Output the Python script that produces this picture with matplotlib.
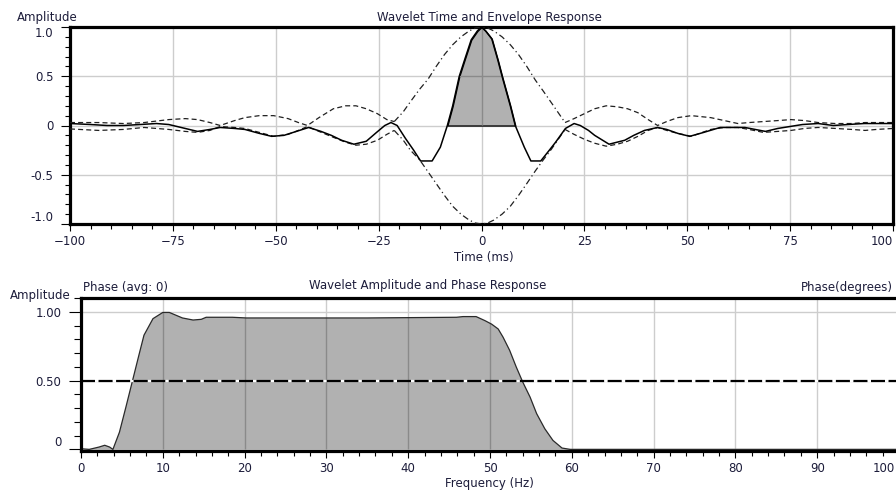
import numpy as np
import matplotlib.pyplot as plt
from matplotlib.ticker import MultipleLocator
from matplotlib.transforms import ScaledTranslation

# wavelet (time domain)
t_w = [-100, -95, -91, -87, -83, -79, -76, -72, -69, -66, -63.5, -60, -57.5, -54, -51, -48, -45,
       -42, -39, -36.5, -34, -31, -28, -25.5, -23.5, -22, -20.5, -18.5, -16.5, -14.8, -12, -10,
       -8.3, -7, -5.4, -4, -2.5, -1, 0, 1, 2.5, 4, 5, 7, 8.2, 10.4, 12, 14.4, 16.5, 18, 20.4,
       22.5, 24, 26, 27.5, 31, 34.8, 37, 39.6, 42.8, 45, 47.7, 50.6, 54, 58, 64, 66.5, 69, 72,
       75, 78, 81.8, 85.5, 89, 93, 96, 100]
w = [0.02, 0.01, 0.0, 0.0, 0.01, 0.02, 0.01, -0.03, -0.06, -0.04, -0.02, -0.03, -0.04, -0.08,
     -0.11, -0.10, -0.06, -0.02, -0.06, -0.10, -0.15, -0.19, -0.16, -0.07, 0.0, 0.03, 0.0,
     -0.13, -0.25, -0.36, -0.36, -0.22, 0.0, 0.2, 0.5, 0.68, 0.87, 0.96, 1.0, 0.96, 0.88, 0.66,
     0.5, 0.2, 0.0, -0.22, -0.36, -0.36, -0.25, -0.17, -0.03, 0.02, 0.0, -0.05, -0.10, -0.19,
     -0.15, -0.10, -0.05, -0.02, -0.04, -0.08, -0.11, -0.07, -0.02, -0.02, -0.04, -0.06, -0.03,
     -0.01, 0.01, 0.02, 0.0, 0.01, 0.02, 0.02, 0.02]

# envelope (upper / lower)
t_env = [-100, -93, -87, -82, -76, -72, -69, -66, -63.5, -60, -57.5, -54, -50.5, -47, -44.5,
         -42.3, -39.5, -36, -33, -30.5, -28, -25.3, -23, -21.2, -19, -17.3, -15, -13, -11, -9,
         -7, -5, -3, -1.5, 0, 1.5, 3, 5, 7, 9, 11, 13.1, 15, 17, 20.3, 22.5, 25, 27.5, 30.3, 33,
         35.5, 38, 40.5, 42.8, 45, 47.7, 51, 55.7, 59, 62.3, 65, 68.5, 72, 75.2, 78.5, 81.8, 86,
         90, 93.2, 96, 100]
env_up = [0.03, 0.03, 0.02, 0.03, 0.06, 0.07, 0.06, 0.03, 0.0, 0.05, 0.08, 0.10, 0.10, 0.07,
          0.03, 0.0, 0.08, 0.17, 0.20, 0.20, 0.17, 0.12, 0.06, 0.04, 0.14, 0.24, 0.37, 0.47,
          0.60, 0.72, 0.82, 0.90, 0.96, 0.99, 1.0, 0.99, 0.96, 0.90, 0.82, 0.72, 0.60, 0.46,
          0.35, 0.23, 0.03, 0.07, 0.12, 0.17, 0.20, 0.19, 0.17, 0.13, 0.06, 0.0, 0.04, 0.08,
          0.10, 0.08, 0.05, 0.02, 0.03, 0.04, 0.05, 0.06, 0.05, 0.03, 0.02, 0.02, 0.03, 0.03,
          0.03]
env_lo = [-0.035, -0.05, -0.04, -0.02, -0.04, -0.06, -0.07, -0.05, -0.01, -0.02, -0.03, -0.07,
          -0.11, -0.09, -0.05, -0.01, -0.06, -0.12, -0.17, -0.20, -0.19, -0.15, -0.09, -0.05,
          -0.15, -0.25, -0.35, -0.47, -0.59, -0.71, -0.82, -0.90, -0.96, -0.99, -1.0, -0.99,
          -0.96, -0.90, -0.82, -0.71, -0.59, -0.46, -0.35, -0.24, -0.04, -0.09, -0.14, -0.18,
          -0.21, -0.19, -0.16, -0.11, -0.05, -0.02, -0.05, -0.08, -0.11, -0.04, -0.02, -0.02,
          -0.04, -0.07, -0.06, -0.05, -0.03, -0.02, -0.03, -0.04, -0.05, -0.04, -0.03]
env_inner = (-21.2, 20.3)  # part of envelope drawn dash-dot

# amplitude spectrum
freq = [0, 1, 2.2, 2.9, 3.5, 3.9, 4.7, 5.5, 6.3, 7.1, 7.7, 8.8, 10, 10.8, 12.4, 13.7, 14.7,
        15.3, 18.5, 20.2, 26.7, 35, 45.9, 46.7, 48.3, 49.4, 50.2, 51, 51.6, 52.4, 53.2, 54.0,
        54.9, 55.7, 56.7, 57.7, 58.8, 59.8, 70, 80, 90, 100]
amp = [0.005, 0.0, 0.017, 0.03, 0.017, 0.0, 0.125, 0.31, 0.5, 0.69, 0.83, 0.95, 0.995, 0.995,
       0.955, 0.94, 0.945, 0.96, 0.96, 0.955, 0.955, 0.955, 0.96, 0.965, 0.965, 0.935, 0.91,
       0.875, 0.815, 0.72, 0.6, 0.49, 0.38, 0.26, 0.15, 0.065, 0.01, 0.0, 0, 0, 0, 0]
half_level = 0.5

time_ticks = [-100, -75, -50, -25, 0, 25, 50, 75, 100]
amp_ticks = [-1.0, -0.5, 0, 0.5, 1.0]
amp_labels = ['-1.0', '-0.5', '0', '0.5', '1.0']
freq_ticks = [0, 10, 20, 30, 40, 50, 60, 70, 80, 90, 100]
spec_ticks = [0, 0.5, 1.0]
spec_labels = ['0', '0.50', '1.00']

TXT = '#1c1c3a'
FILL = '#b1b1b1'
GRID = '#cdcdcd'
GRID_IN = '#8a8a8a'
plt.rcParams['font.family'] = ['DejaVu Sans']
plt.rcParams['font.size'] = 8.5

fig = plt.figure(figsize=(8.96, 4.93), dpi=100)
ax1 = fig.add_axes([70 / 896, 1 - 224 / 493, 823 / 896, 197 / 493])
ax2 = fig.add_axes([81 / 896, 1 - 450.5 / 493, 818 / 896, 152.5 / 493])

def style_axes(ax, ylen, ymin_len):
    for s in ax.spines.values():
        s.set_linewidth(2.3)
        s.set_color('black')
    ax.tick_params(axis='y', which='major', length=ylen, width=0.8, pad=5.5, labelcolor=TXT)
    ax.tick_params(axis='y', which='minor', length=ymin_len, width=0.8)
    ax.tick_params(axis='x', which='major', length=5, width=0.8, pad=3, labelcolor=TXT)
    ax.tick_params(axis='x', which='minor', length=3.5, width=0.8)
    ax.set_axisbelow(True)

# ---------- top: time response ----------
t_w = np.array(t_w); w = np.array(w)
t_env = np.array(t_env); env_up = np.array(env_up); env_lo = np.array(env_lo)

ax1.set_xlim(-100, 100)
ax1.set_ylim(-1, 1)
ax1.set_xticks(time_ticks)
ax1.set_yticks(amp_ticks, amp_labels)
ax1.xaxis.set_minor_locator(MultipleLocator(5))
ax1.yaxis.set_minor_locator(MultipleLocator(0.1))
ax1.grid(True, which='major', color=GRID, lw=1.0)
style_axes(ax1, 6.5, 3.5)

lobe = (t_w > -9) & (t_w < 9)
poly1 = ax1.fill_between(t_w, w, 0, where=lobe & (w >= 0), interpolate=True,
                         facecolor=FILL, edgecolor='black', lw=1.0, zorder=2)
clip1 = poly1.get_paths()[0]
for x in time_ticks:
    ln = ax1.axvline(x, color=GRID_IN, lw=1.0, zorder=2.1)
    ln.set_clip_path(clip1, ax1.transData)
for y in amp_ticks:
    ln = ax1.axhline(y, color=GRID_IN, lw=1.0, zorder=2.1)
    ln.set_clip_path(clip1, ax1.transData)

inner = (t_env > env_inner[0]) & (t_env < env_inner[1])
mid = (t_env >= env_inner[0]) & (t_env <= env_inner[1])
for env in (env_up, env_lo):
    outer = np.where(inner, np.nan, env)
    ax1.plot(t_env, outer, color='#202020', lw=0.9, dashes=(4, 2.5), zorder=3)
    ax1.plot(t_env[mid], env[mid], color='#202020', lw=0.9, dashes=(5, 2.5, 1, 2.5), zorder=3)
ax1.plot(t_w, w, color='black', lw=1.1, zorder=4)

for lab in ax1.get_yticklabels():
    if lab.get_text() == '1.0':
        lab.set_va('top')
    elif lab.get_text() == '-1.0':
        lab.set_va('bottom')
ax1.get_xticklabels()[-1].set_ha('right')

fig.text(17 / 896, 1 - 17 / 493, 'Amplitude', color=TXT, va='center', ha='left')
fig.text(489 / 896, 1 - 17 / 493, 'Wavelet Time and Envelope Response', color=TXT,
         va='center', ha='center')
fig.text(484 / 896, 1 - 258 / 493, 'Time (ms)', color=TXT, va='center', ha='center')

# ---------- bottom: amplitude spectrum ----------
ax2.set_xlim(0, 100)
ax2.set_ylim(-0.008, 1.1)
ax2.set_xticks(freq_ticks)
ax2.set_yticks(spec_ticks, spec_labels)
ax2.xaxis.set_minor_locator(MultipleLocator(2))
ax2.yaxis.set_minor_locator(MultipleLocator(0.1))
ax2.grid(True, which='major', color=GRID, lw=1.0)
style_axes(ax2, 8.5, 5)
ax2.spines['right'].set_visible(False)

poly2 = ax2.fill_between(freq, amp, 0, facecolor=FILL, edgecolor='none', zorder=2)
ax2.plot(freq, amp, color='#2a2a2a', lw=0.9, zorder=2.2)
clip2 = poly2.get_paths()[0]
for x in freq_ticks:
    ln = ax2.axvline(x, color=GRID_IN, lw=1.0, zorder=2.1)
    ln.set_clip_path(clip2, ax2.transData)
ax2.axhline(half_level, color='black', lw=1.6, dashes=(6.3, 1.6), gapcolor='white', zorder=4)

for lab in ax2.get_yticklabels():
    if lab.get_text() == '0':
        lab.set_va('bottom')
last = ax2.get_xticklabels()[-1]
last.set_ha('right')
last.set_transform(last.get_transform() + ScaledTranslation(-4 / 100, 0, fig.dpi_scale_trans))

fig.text(10 / 896, 1 - 295 / 493, 'Amplitude', color=TXT, va='center', ha='left')
fig.text(83 / 896, 1 - 287 / 493, 'Phase (avg: 0)', color=TXT, va='center', ha='left')
fig.text(428 / 896, 1 - 286 / 493, 'Wavelet Amplitude and Phase Response', color=TXT,
         va='center', ha='center')
fig.text(893 / 896, 1 - 288 / 493, 'Phase(degrees)', color=TXT, va='center', ha='right')
fig.text(489 / 896, 1 - 483 / 493, 'Frequency (Hz)', color=TXT, va='center', ha='center')

fig.savefig('out.png', dpi=100)
